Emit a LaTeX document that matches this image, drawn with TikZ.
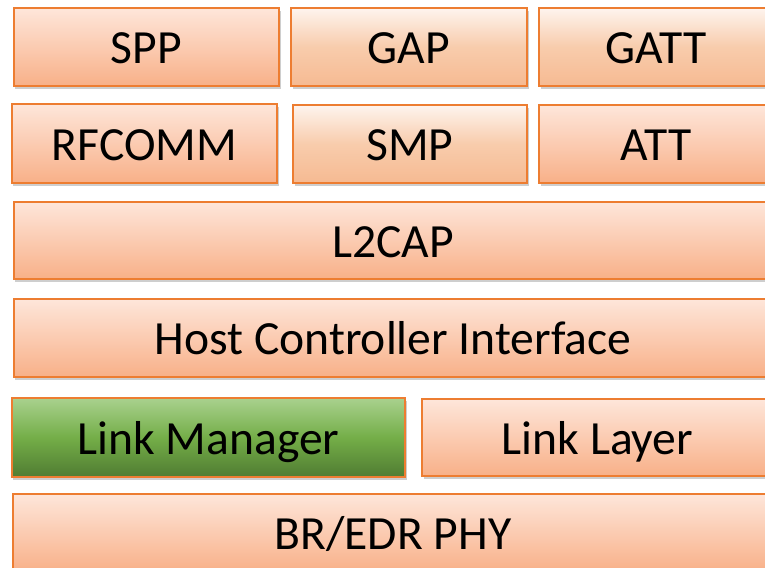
\documentclass[tikz,border=0pt]{standalone}
\usepackage{fontspec}
\setmainfont{Carlito}
\usetikzlibrary{shadows}
\definecolor{edgeor}{RGB}{237,125,49}
\definecolor{ortop}{RGB}{254,230,218}
\definecolor{orbot}{RGB}{248,176,136}
\definecolor{ltop}{RGB}{254,244,238}
\definecolor{lmid}{RGB}{248,204,172}
\definecolor{lbot}{RGB}{246,186,146}
\definecolor{grtop}{RGB}{169,209,142}
\definecolor{grmid}{RGB}{116,174,72}
\definecolor{grbot}{RGB}{80,124,50}
\tikzset{
  layer/.style={rectangle, draw=edgeor, line width=2.4bp, inner sep=0pt,
    font=\fontsize{47.6bp}{56bp}\selectfont, text height=33.6bp, text depth=0pt,
    drop shadow={shadow xshift=1.5bp, shadow yshift=-3bp, opacity=0.35, fill=black!55}},
  orbox/.style={layer, top color=ortop, bottom color=orbot},
  ltbox/.style={layer, top color=ltop, bottom color=lbot, middle color=lmid},
  grbox/.style={layer, top color=grtop, bottom color=grbot, middle color=grmid},
}
\begin{document}
\begin{tikzpicture}[x=1bp,y=1bp]
\useasboundingbox (0,-568) rectangle (765,0);
\clip (0,-568) rectangle (765,0);
\fill[white] (0,-568) rectangle (765,0);
% row 1
\node[orbox, minimum width=265bp, minimum height=78bp] (spp) at (146.5,-47) {SPP};
\node[ltbox, minimum width=236bp, minimum height=78bp] (gap) at (409,-47) {GAP};
\node[ltbox, minimum width=234bp, minimum height=78bp] (gatt) at (656,-47) {GATT};
% row 2
\node[orbox, minimum width=265bp, minimum height=79bp] (rfcomm) at (144.5,-143.5) {RFCOMM};
\node[ltbox, minimum width=234bp, minimum height=78bp] (smp) at (410,-144) {SMP};
\node[orbox, minimum width=234bp, minimum height=78bp] (att) at (656,-144) {ATT};
% row 3
\node[orbox, minimum width=758bp, minimum height=77bp] (l2cap) at (393,-240.5) {L2CAP};
% row 4
\node[orbox, minimum width=758bp, minimum height=78bp] (hci) at (393,-338) {Host Controller Interface};
% row 5
\node[grbox, minimum width=393bp, minimum height=79bp] (lm) at (208.5,-437.5) {Link Manager};
\node[orbox, minimum width=351bp, minimum height=77bp] (ll) at (597.5,-437.5) {Link Layer};
% row 6
\node[orbox, minimum width=760bp, minimum height=78bp] (phy) at (393,-533) {BR/EDR PHY};
\end{tikzpicture}
\end{document}
